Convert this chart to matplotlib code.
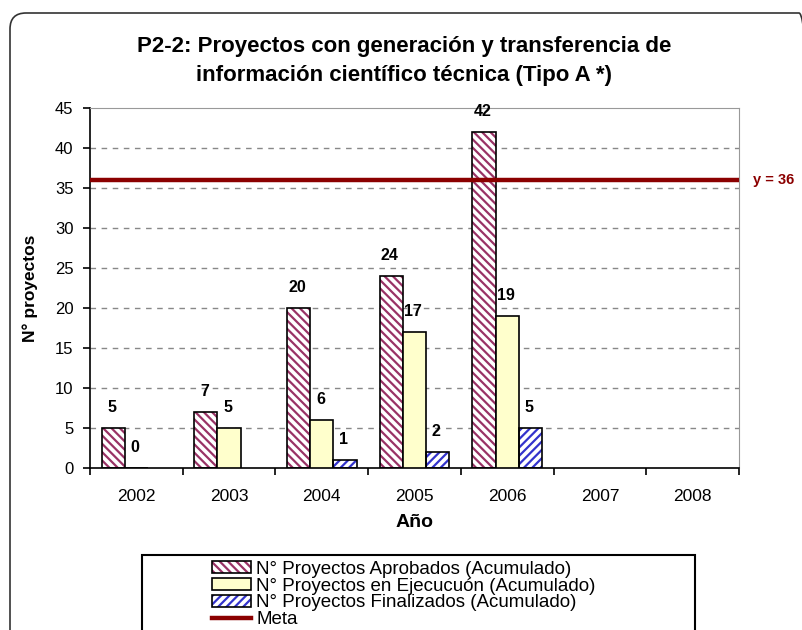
import numpy as np
import matplotlib
matplotlib.use("Agg")
import matplotlib.pyplot as plt
from matplotlib.patches import Patch, Rectangle, FancyBboxPatch
from matplotlib.lines import Line2D
from matplotlib.transforms import IdentityTransform

years = ['2002', '2003', '2004', '2005', '2006', '2007', '2008']
aprobados = [5, 7, 20, 24, 42, None, None]
ejecucion = [0, 5, 6, 17, 19, None, None]
finalizados = [None, None, 1, 2, 5, None, None]
meta = 36

series_labels = ['N° Proyectos Aprobados (Acumulado)',
                 'N° Proyectos en Ejecucuón (Acumulado)',
                 'N° Proyectos Finalizados (Acumulado)']
meta_label = 'Meta'

plt.rcParams['font.family'] = ['Liberation Sans', 'DejaVu Sans']
plt.rcParams['hatch.linewidth'] = 1.6

W, H = 802, 630
fig = plt.figure(figsize=(W / 100, H / 100), dpi=100)
ax = fig.add_axes([90 / W, 162 / H, 649 / W, 360 / H])

# outer rounded frame of the chart, in pixels (cut off at right and bottom)
frame = FancyBboxPatch((10, -30), 805, H - 13 + 30,
                       boxstyle="round,pad=0,rounding_size=16",
                       transform=IdentityTransform(), facecolor='none',
                       edgecolor='#333333', linewidth=1.2, clip_on=False)
fig.patches.append(frame)

x = np.arange(len(years))
w = 0.25
styles = [
    dict(face='white', hatch='\\\\\\\\', hcolor='#993366'),
    dict(face='#FFFFCC', hatch=None, hcolor=None),
    dict(face='white', hatch='////', hcolor='#3333CC'),
]
handles = []
for i, (vals, st) in enumerate(zip([aprobados, ejecucion, finalizados], styles)):
    off = (i - 1) * w
    idx = [j for j, v in enumerate(vals) if v is not None]
    hs = [vals[j] for j in idx]
    xs = x[idx] + off
    if st['hatch']:
        ax.bar(xs, hs, w, color=st['face'], edgecolor=st['hcolor'],
               hatch=st['hatch'], linewidth=0, zorder=2)
        ax.bar(xs, hs, w, color='none', edgecolor='black', linewidth=1.2, zorder=3)
        h = (Patch(facecolor=st['face'], edgecolor=st['hcolor'], hatch=st['hatch'], linewidth=0),
             Patch(facecolor='none', edgecolor='black', linewidth=1.2))
    else:
        ax.bar(xs, hs, w, color=st['face'], edgecolor='black', linewidth=1.2, zorder=3)
        h = Patch(facecolor=st['face'], edgecolor='black', linewidth=1.2)
    handles.append(h)
    for xx, v in zip(xs, hs):
        ax.annotate(str(v), (xx, v), xytext=(-1, 14.5), textcoords='offset points',
                    ha='center', va='center', fontsize=11.5, fontweight='bold', zorder=5)

ax.axhline(meta, color='#8B0000', linewidth=3.2, zorder=4)
handles.append(Line2D([0], [0], color='#8B0000', linewidth=3.2))
ax.annotate(f'y = {meta}', (1, meta), xycoords=('axes fraction', 'data'),
            xytext=(10, 0), textcoords='offset points', ha='left', va='center',
            color='#8B0000', fontsize=10.5, fontweight='bold')

ax.set_xlim(-0.5, len(years) - 0.5)
ax.set_ylim(0, 45)
ax.set_yticks(np.arange(0, 46, 5))
ax.set_xticks(np.arange(-0.5, len(years), 1))
ax.set_xticklabels([])
ax.set_xticks(x, minor=True)
ax.set_xticklabels(years, minor=True, fontsize=12.5)
ax.tick_params(axis='x', which='minor', length=0, pad=15)
ax.tick_params(axis='x', which='major', length=5, width=1.2, direction='out')
ax.tick_params(axis='y', length=5, width=1.2, labelsize=12, pad=7)

for yv in np.arange(5, 45, 5):
    ax.axhline(yv, color='#888888', linewidth=1, linestyle=(0, (4, 4)), zorder=1)

ax.spines['left'].set_color('black')
ax.spines['bottom'].set_color('black')
ax.spines['left'].set_linewidth(1.2)
ax.spines['bottom'].set_linewidth(1.2)
ax.spines['top'].set_color('#999999')
ax.spines['right'].set_color('#999999')

ax.set_xlabel('Año', fontsize=14, fontweight='bold', labelpad=7)
ax.set_ylabel('N° proyectos', fontsize=12.5, fontweight='bold', labelpad=12)

fig.text(404 / W, 1 - 61 / H,
         'P2-2: Proyectos con generación y transferencia de\ninformación científico técnica (Tipo A *)',
         ha='center', va='center', fontsize=16, fontweight='bold',
         family=['Liberation Sans Narrow', 'Liberation Sans', 'DejaVu Sans'], linespacing=1.5)

# legend box (extends past the bottom edge)
fig.patches.append(Rectangle((142 / W, -30 / H), 553 / W, 105 / H,
                             transform=fig.transFigure, facecolor='white',
                             edgecolor='black', linewidth=1.5, clip_on=False))
fig.legend(handles, series_labels + [meta_label], loc='upper left',
           bbox_to_anchor=(212 / W, 1 - 561 / H), frameon=False,
           fontsize=13.5, handlelength=2.1, handleheight=0.6, handletextpad=0.25,
           labelspacing=-0.02, borderpad=0, borderaxespad=0)

fig.savefig('out.png', dpi=100)
